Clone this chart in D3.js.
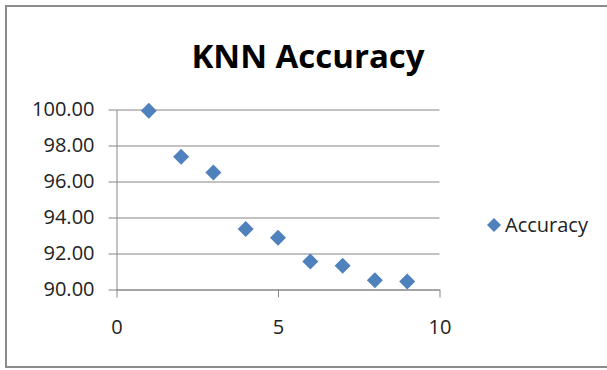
<!DOCTYPE html>
<html>
<head>
<meta charset="utf-8">
<script src="https://cdn.jsdelivr.net/npm/d3@7"></script>
<style>
  html, body { margin: 0; padding: 0; background: #fff; }
  svg { display: block; }
  text { font-family: "Open Sans", "Noto Sans", sans-serif; }
</style>
</head>
<body>
<svg id="chart" width="607" height="370"></svg>
<script>
const kValues = [1, 2, 3, 4, 5, 6, 7, 8, 9];
const accuracy = [99.93, 97.37, 96.50, 93.36, 92.88, 91.56, 91.32, 90.52, 90.45];
const xTicks = [0, 5, 10];
const yTicks = [90, 92, 94, 96, 98, 100];
const seriesName = "Accuracy";
const titleText = "KNN Accuracy";

const svg = d3.select("#chart");
const color = "#4F81BD";
const gridColor = "#868686";

// outer border
svg.append("rect")
  .attr("x", 6).attr("y", 6).attr("width", 700).attr("height", 361)
  .attr("fill", "#fff").attr("stroke", "#8c8c8c").attr("stroke-width", 2);

const x = d3.scaleLinear().domain([0, 10]).range([116.5, 439.5]);
const y = d3.scaleLinear().domain([90, 100]).range([289.5, 109.5]);

// gridlines
svg.append("g")
  .attr("transform", `translate(${x(0)},0)`)
  .call(d3.axisLeft(y).tickValues(yTicks).tickSize(-(x(10) - x(0))).tickFormat(""))
  .call(g => g.select(".domain").remove())
  .call(g => g.selectAll("line").attr("stroke", gridColor));

// y axis
svg.append("g")
  .attr("transform", `translate(${x(0)},0)`)
  .call(d3.axisLeft(y).tickValues(yTicks).tickSize(8).tickPadding(14).tickSizeOuter(0).tickFormat(d3.format(".2f")))
  .call(g => g.select(".domain").attr("stroke", gridColor))
  .call(g => g.selectAll("line").attr("stroke", gridColor))
  .call(g => g.selectAll("text").attr("font-family", "'Open Sans', sans-serif").attr("font-size", 20).attr("fill", "#222"));

// x axis
svg.append("g")
  .attr("transform", `translate(0,${y(90)})`)
  .call(d3.axisBottom(x).tickValues(xTicks).tickSize(8).tickPadding(22).tickSizeOuter(0).tickFormat(d3.format("d")))
  .call(g => g.select(".domain").attr("stroke", gridColor))
  .call(g => g.selectAll("line").attr("stroke", gridColor))
  .call(g => g.selectAll("text").attr("font-family", "'Open Sans', sans-serif").attr("font-size", 20).attr("fill", "#222"));

// diamonds
const diamond = r => `M0,${-r}L${r},0L0,${r}L${-r},0Z`;
svg.append("g").selectAll("path")
  .data(kValues.map((k, i) => ({k, v: accuracy[i]})))
  .join("path")
  .attr("transform", d => `translate(${x(d.k)},${y(d.v)})`)
  .attr("d", diamond(8))
  .attr("fill", color);

// title
svg.append("text")
  .attr("x", 308).attr("y", 68)
  .attr("text-anchor", "middle")
  .attr("font-size", 33).attr("font-weight", "bold").attr("fill", "#000")
  .text(titleText);

// legend
const lg = svg.append("g").attr("transform", "translate(494,225)");
lg.append("path").attr("d", diamond(7)).attr("fill", color);
lg.append("text").attr("x", 11).attr("y", 7)
  .attr("font-size", 20).attr("fill", "#222").text(seriesName);
</script>
</body>
</html>
